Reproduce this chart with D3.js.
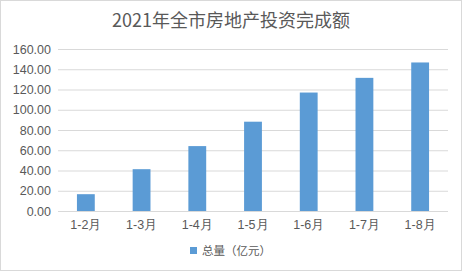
<!DOCTYPE html>
<html>
<head>
<meta charset="utf-8">
<script src="https://cdn.jsdelivr.net/npm/d3@7"></script>
<style>
body { margin: 0; background: #fff; }
svg { display: block; font-family: "Noto Sans CJK SC", "DejaVu Sans", sans-serif; }
</style>
</head>
<body>
<svg></svg>
<script>
let width = 462, height = 271

let months = ["1-2月", "1-3月", "1-4月", "1-5月", "1-6月", "1-7月", "1-8月"]
let totals = [16.6, 41.3, 64.1, 88.2, 117.0, 131.5, 146.7]
let yTicks = [0, 20, 40, 60, 80, 100, 120, 140, 160]
let title = "2021年全市房地产投资完成额"
let seriesName = "总量（亿元）"

let margin = {top: 49, right: 14, bottom: 60, left: 58}

let svg = d3.select("svg").attr("width", width).attr("height", height)

svg.append("rect")
    .attr("x", 0.5).attr("y", 0.5)
    .attr("width", width - 1).attr("height", height - 1)
    .attr("fill", "#fff").attr("stroke", "#d9d9d9")

let x = d3.scaleBand()
    .domain(months)
    .range([margin.left, width - margin.right])
    .paddingInner(0.68)
    .paddingOuter(0.34)

let y = d3.scaleLinear()
    .domain([0, 160])
    .range([height - margin.bottom, margin.top])

// gridlines
svg.append("g")
    .selectAll("line")
    .data(yTicks)
    .enter()
    .append("line")
    .attr("x1", margin.left).attr("x2", width - margin.right)
    .attr("y1", d => y(d) + 0.5).attr("y2", d => y(d) + 0.5)
    .attr("stroke", "#d9d9d9")

let yAxis = svg.append("g")
    .attr("transform", `translate(${margin.left},0)`)
    .call(d3.axisLeft(y).tickValues(yTicks).tickFormat(d3.format(".2f")).tickSize(0).tickPadding(7))
yAxis.select(".domain").remove()
yAxis.selectAll("text").attr("fill", "#595959").style("font-size", "12.5px")

svg.append("g")
    .selectAll("rect")
    .data(totals)
    .enter()
    .append("rect")
    .attr("x", (d, i) => x(months[i]))
    .attr("y", d => y(d))
    .attr("width", x.bandwidth())
    .attr("height", d => y(0) - y(d))
    .attr("fill", "#5b9bd5")

let xAxis = svg.append("g")
    .attr("transform", `translate(0,${y(0)})`)
    .call(d3.axisBottom(x).tickSize(0).tickPadding(9))
xAxis.select(".domain").remove()
xAxis.selectAll("text").attr("fill", "#595959").style("font-size", "12.5px")

svg.append("text")
    .attr("x", 231).attr("y", 27)
    .attr("text-anchor", "middle")
    .attr("fill", "#595959")
    .style("font-size", "18px")
    .text(title)

let legend = svg.append("g").attr("transform", "translate(190,247)")
legend.append("rect").attr("width", 7).attr("height", 7).attr("fill", "#5b9bd5")
legend.append("text")
    .attr("x", 12).attr("y", 7.5)
    .attr("fill", "#595959")
    .style("font-size", "11.5px")
    .text(seriesName)
</script>
</body>
</html>
